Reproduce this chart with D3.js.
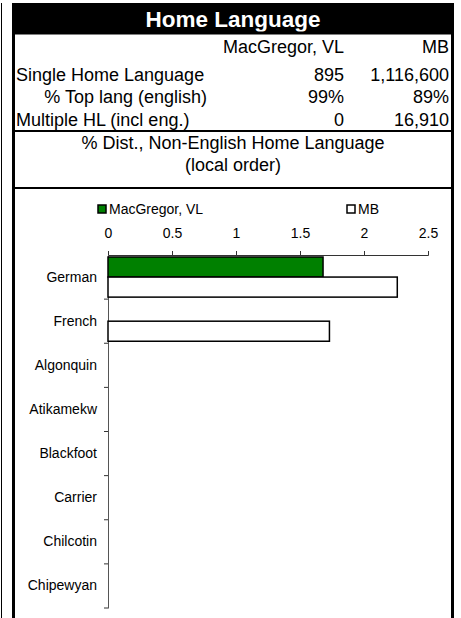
<!DOCTYPE html>
<html><head><meta charset="utf-8">
<script src="https://cdn.jsdelivr.net/npm/d3@7"></script>
<style>body{margin:0;background:#fff;}svg{display:block;font-family:"Liberation Sans",Arial,sans-serif;}</style>
</head><body>
<svg id="c" width="461" height="618"></svg>
<script>
const title = "Home Language";
const seriesNames = ["MacGregor, VL", "MB"];
const rowLabels = ["Single Home Language", "% Top lang (english)", "Multiple HL (incl eng.)"];
const colLocal = ["895", "99%", "0"];
const colMB = ["1,116,600", "89%", "16,910"];
const subtitle = ["% Dist., Non-English Home Language", "(local order)"];
const categories = ["German", "French", "Algonquin", "Atikamekw", "Blackfoot", "Carrier", "Chilcotin", "Chipewyan"];
const localValues = [1.68, 0, 0, 0, 0, 0, 0, 0];
const mbValues = [2.26, 1.73, 0, 0, 0, 0, 0, 0];
const xTicks = [0, 0.5, 1, 1.5, 2, 2.5];
const colors = ["#008000", "#ffffff"];

const svg = d3.select("#c");
const FF = "Liberation Sans, Arial, sans-serif";
// thin left line
svg.append("line").attr("x1",1.5).attr("x2",1.5).attr("y1",3).attr("y2",618).attr("stroke","#000").attr("stroke-width",1);
// title bar
svg.append("rect").attr("x",12).attr("y",3).attr("width",442).attr("height",31).attr("fill","#000");
svg.append("text").attr("x",233).attr("y",27).attr("text-anchor","middle").attr("fill","#fff")
  .attr("font-size",22.5).attr("font-weight","bold").text(title);
// borders
svg.append("rect").attr("x",13.5).attr("y",33).attr("width",439).attr("height",600).attr("fill","none").attr("stroke","#000").attr("stroke-width",3);
svg.append("line").attr("x1",15).attr("x2",451).attr("y1",131).attr("y2",131).attr("stroke","#000").attr("stroke-width",2);
svg.append("line").attr("x1",15).attr("x2",451).attr("y1",188).attr("y2",188).attr("stroke","#000").attr("stroke-width",2);

// table
const fs = 18;
svg.append("text").attr("x",344).attr("y",53).attr("text-anchor","end").attr("font-size",fs).text(seriesNames[0]);
svg.append("text").attr("x",449).attr("y",53).attr("text-anchor","end").attr("font-size",fs).text(seriesNames[1]);
const rowY = d3.scalePoint().domain(d3.range(rowLabels.length)).range([80.5, 126]);
rowLabels.forEach((r,i)=>{
  const y = rowY(i);
  const t = svg.append("text").attr("y",y).attr("font-size",fs).text(r);
  if (i===1) t.attr("x",207).attr("text-anchor","end"); else t.attr("x",16);
  svg.append("text").attr("x",344).attr("y",y).attr("text-anchor","end").attr("font-size",fs).text(colLocal[i]);
  svg.append("text").attr("x",449).attr("y",y).attr("text-anchor","end").attr("font-size",fs).text(colMB[i]);
});
subtitle.forEach((s,i)=>{
  svg.append("text").attr("x",233).attr("y",149+i*21.5).attr("text-anchor","middle").attr("font-size",fs).text(s);
});

// chart
const x = d3.scaleLinear().domain([0,2.5]).range([108,428]);
const y = d3.scaleBand().domain(categories).range([255,608]);
const inner = d3.scaleBand().domain([0,1]).range([0,y.bandwidth()]).paddingOuter(0.1);

const xAxis = svg.append("g").attr("transform","translate(0,255)")
  .call(d3.axisTop(x).tickValues(xTicks).tickSize(4).tickPadding(13).tickFormat(d3.format("")));
xAxis.selectAll("text").attr("font-size",14).attr("fill","#000").attr("font-family",FF);
xAxis.selectAll("path,line").attr("stroke","#333");

const yAxis = svg.append("g").attr("transform","translate(108,0)")
  .call(d3.axisLeft(y).tickSize(0).tickPadding(11));
yAxis.select("path").attr("stroke","#555");
yAxis.selectAll("text").attr("font-size",14).attr("fill","#000").attr("font-family",FF);
// category boundary ticks
svg.append("g").selectAll("line").data(categories).join("line")
  .attr("x1",104).attr("x2",108)
  .attr("y1",d=> y(d) + y.bandwidth())
  .attr("y2",d=> y(d) + y.bandwidth())
  .attr("stroke","#333");

const bars = [localValues, mbValues];
bars.forEach((vals,s)=>{
  svg.append("g").selectAll("rect").data(categories.map((c,i)=>({c,v:vals[i]})).filter(d=>d.v>0)).join("rect")
    .attr("x",x(0)).attr("y",d=>y(d.c)+inner(s)).attr("width",d=>x(d.v)-x(0)).attr("height",inner.bandwidth())
    .attr("fill",colors[s]).attr("stroke","#000").attr("stroke-width",1.5);
});

// legend
const leg = [{x:97,n:seriesNames[0],c:colors[0]},{x:346,n:seriesNames[1],c:colors[1]}];
leg.forEach(l=>{
  svg.append("rect").attr("x",l.x+1).attr("y",205).attr("width",8).attr("height",8).attr("fill",l.c).attr("stroke","#000").attr("stroke-width",1.5);
  svg.append("text").attr("x",l.x+12).attr("y",214).attr("font-size",14).text(l.n);
});
</script>
</body></html>
